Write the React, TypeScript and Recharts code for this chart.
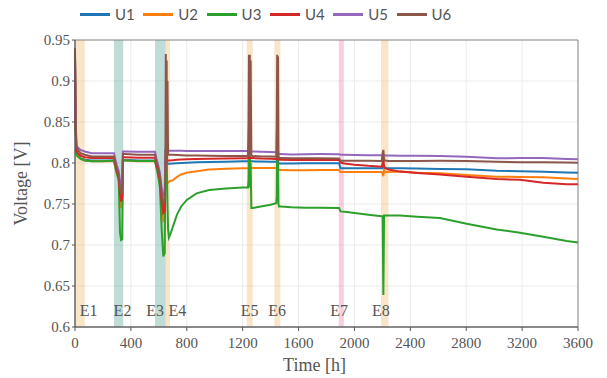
import React from 'react';
import { LineChart, Line, XAxis, YAxis, CartesianGrid, ReferenceArea, ReferenceDot } from 'recharts';

const hours = [
  0, 4, 10, 20, 40, 70, 120, 200, 280,
  286, 300, 313, 322, 330, 338, 343,
  360, 450, 573,
  580, 595, 608, 620, 632, 642,
  647, 650, 653, 656, 659, 662, 666, 672, 680,
  700, 730, 760, 800, 870, 960, 1080, 1200, 1238,
  1242, 1245, 1248, 1251, 1254, 1257, 1262, 1272,
  1330, 1400, 1440,
  1444, 1447, 1450, 1453, 1456, 1460, 1470,
  1550, 1650, 1750, 1890,
  1900, 1930, 2000, 2100, 2195,
  2202, 2207, 2212, 2218, 2245,
  2326, 2450, 2612, 2803, 3018, 3185, 3352, 3519, 3600,
];

const u1 = [
  0.93, 0.85, 0.812, 0.81, 0.806, 0.804, 0.803, 0.803, 0.803,
  0.798, 0.789, 0.78, 0.768, 0.76, 0.762, 0.804,
  0.804, 0.803, 0.803,
  0.798, 0.788, 0.776, 0.758, 0.745, 0.748,
  0.8, 0.801, 0.8, 0.8, 0.799, 0.799, 0.799, 0.799, 0.799,
  0.7995, 0.7998, 0.8, 0.8003, 0.8008, 0.8012, 0.8016, 0.802, 0.802,
  0.802, 0.803, 0.802, 0.803, 0.802, 0.802, 0.802, 0.802,
  0.8018, 0.8016, 0.8015,
  0.8015, 0.802, 0.801, 0.802, 0.8, 0.7995, 0.7995,
  0.7995, 0.7996, 0.7996, 0.7996,
  0.7935, 0.7935, 0.7935, 0.7935, 0.7935,
  0.794, 0.795, 0.7935, 0.7935, 0.7935,
  0.7935, 0.7932, 0.7927, 0.7923, 0.7906, 0.79, 0.7894, 0.7885, 0.788,
];

const u2 = [
  0.93, 0.85, 0.812, 0.809, 0.805, 0.803, 0.802, 0.802, 0.802,
  0.797, 0.787, 0.778, 0.755, 0.745, 0.75, 0.803,
  0.803, 0.802, 0.802,
  0.797, 0.787, 0.774, 0.745, 0.73, 0.733,
  0.8, 0.802, 0.8, 0.79, 0.778, 0.776, 0.776, 0.777, 0.778,
  0.779, 0.783, 0.786, 0.788, 0.79, 0.792, 0.793, 0.7935, 0.7935,
  0.7935, 0.795, 0.793, 0.795, 0.794, 0.794, 0.794, 0.794,
  0.794, 0.794, 0.794,
  0.794, 0.795, 0.794, 0.795, 0.792, 0.7915, 0.7915,
  0.7912, 0.7913, 0.7914, 0.7914,
  0.789, 0.789, 0.789, 0.789, 0.789,
  0.787, 0.784, 0.791, 0.789, 0.789,
  0.7895, 0.788, 0.7874, 0.7854, 0.7833, 0.783, 0.7825, 0.781, 0.7805,
];

const u3 = [
  0.92, 0.84, 0.81, 0.808, 0.805, 0.803, 0.802, 0.802, 0.803,
  0.797, 0.787, 0.78, 0.715, 0.706, 0.707, 0.803,
  0.803, 0.8025, 0.8025,
  0.797, 0.785, 0.77, 0.72, 0.686, 0.69,
  0.8, 0.818, 0.79, 0.805, 0.78, 0.75, 0.72, 0.709, 0.712,
  0.722, 0.737, 0.747, 0.755, 0.763, 0.767, 0.769, 0.77, 0.77,
  0.78, 0.82, 0.77, 0.81, 0.775, 0.8, 0.745, 0.745,
  0.747, 0.749, 0.751,
  0.76, 0.82, 0.77, 0.8, 0.75, 0.747, 0.747,
  0.746, 0.7455, 0.7455, 0.745,
  0.741, 0.7405, 0.739, 0.737, 0.735,
  0.735, 0.639, 0.736, 0.736, 0.736,
  0.736, 0.7345, 0.733, 0.726, 0.719, 0.715, 0.71, 0.705, 0.703,
];

const u4 = [
  0.93, 0.85, 0.815, 0.812, 0.809, 0.807, 0.806, 0.806, 0.806,
  0.8, 0.79, 0.782, 0.762, 0.753, 0.758, 0.807,
  0.807, 0.8065, 0.8065,
  0.8, 0.79, 0.778, 0.752, 0.739, 0.742,
  0.805, 0.806, 0.805, 0.805, 0.804, 0.803, 0.803, 0.803, 0.803,
  0.8035, 0.804, 0.8042, 0.8045, 0.805, 0.8053, 0.8056, 0.8057, 0.8057,
  0.806, 0.808, 0.806, 0.808, 0.806, 0.806, 0.806, 0.806,
  0.8055, 0.8052, 0.805,
  0.805, 0.806, 0.805, 0.806, 0.805, 0.804, 0.804,
  0.8038, 0.8038, 0.8037, 0.8037,
  0.8005, 0.7995, 0.798, 0.7965, 0.7955,
  0.8, 0.805, 0.796, 0.794, 0.792,
  0.7895, 0.7878, 0.786, 0.7833, 0.7805, 0.7795, 0.776, 0.774, 0.774,
];

const u5 = [
  0.935, 0.86, 0.822, 0.819, 0.816, 0.814, 0.812, 0.812, 0.812,
  0.806, 0.797, 0.79, 0.778, 0.771, 0.775, 0.814,
  0.814, 0.8138, 0.8138,
  0.807, 0.798, 0.788, 0.77, 0.761, 0.764,
  0.816, 0.817, 0.816, 0.816, 0.816, 0.815, 0.815, 0.815, 0.815,
  0.815, 0.815, 0.8148, 0.8146, 0.8145, 0.8145, 0.8145, 0.8145, 0.8145,
  0.815, 0.816, 0.815, 0.816, 0.815, 0.815, 0.814, 0.814,
  0.8138, 0.8135, 0.813,
  0.813, 0.814, 0.813, 0.814, 0.812, 0.811, 0.811,
  0.8105, 0.8108, 0.811, 0.8108,
  0.81, 0.81, 0.8098, 0.8096, 0.8095,
  0.8097, 0.81, 0.8095, 0.809, 0.809,
  0.8089, 0.8087, 0.8085, 0.8077, 0.8057, 0.806, 0.806, 0.805, 0.8045,
];

const u6 = [
  0.94, 0.86, 0.82, 0.816, 0.812, 0.81, 0.808, 0.808, 0.808,
  0.802, 0.793, 0.785, 0.77, 0.762, 0.767, 0.811,
  0.811, 0.81, 0.81,
  0.803, 0.794, 0.783, 0.762, 0.751, 0.755,
  0.8, 0.933, 0.79, 0.925, 0.8, 0.9, 0.81, 0.81, 0.81,
  0.81, 0.8098, 0.8095, 0.809, 0.809, 0.8088, 0.8085, 0.8085, 0.8085,
  0.85, 0.932, 0.81, 0.932, 0.815, 0.925, 0.809, 0.8085,
  0.808, 0.808, 0.8077,
  0.85, 0.932, 0.81, 0.93, 0.81, 0.806, 0.806,
  0.8058, 0.8057, 0.8057, 0.8055,
  0.8028, 0.8028, 0.8027, 0.8026, 0.8025,
  0.812, 0.816, 0.805, 0.803, 0.8025,
  0.8025, 0.8025, 0.8028, 0.8025, 0.8016, 0.801, 0.801, 0.8005, 0.8004,
];

const seriesNames = ['U1', 'U2', 'U3', 'U4', 'U5', 'U6'];
const seriesColors = ['#1f77b4', '#ff7f0e', '#2ca02c', '#d62728', '#9467bd', '#8c564b'];
const seriesValues = [u1, u2, u3, u4, u5, u6];

const eventNames = ['E1', 'E2', 'E3', 'E4', 'E5', 'E6', 'E7', 'E8'];
const eventLabelHours = [97, 340, 573, 732, 1250, 1446, 1890, 2190];
const bandStarts = [0, 279, 573, 649, 1229, 1427, 1888, 2190];
const bandEnds = [70, 345, 649, 680, 1272, 1470, 1924, 2243];
const bandColors = ['#f0c078', '#5fa898', '#5fa898', '#f0c078', '#f0c078', '#f0c078', '#ec88b5', '#f0c078'];

const xTicks = [0, 400, 800, 1200, 1600, 2000, 2400, 2800, 3200, 3600];
const yTicks = [0.6, 0.65, 0.7, 0.75, 0.8, 0.85, 0.9, 0.95];

const data = hours.map((h, i) => {
  const row: Record<string, number> = { t: h };
  seriesNames.forEach((n, k) => {
    row[n] = seriesValues[k][i];
  });
  return row;
});

const SERIF = '"Liberation Serif", "Times New Roman", serif';
const TEXT = '#555';

export default function App() {
  return (
    <div style={{ position: 'absolute', left: 0, top: 0, width: 607, height: 378 }}>
      <LineChart width={607} height={378} data={data} margin={{ top: 40, right: 29, bottom: 0, left: 0 }}>
        <CartesianGrid stroke="#ebebeb" strokeWidth={1} />
        {eventNames.map((e, i) => (
          <ReferenceArea
            key={'band' + e}
            x1={bandStarts[i]}
            x2={bandEnds[i]}
            y1={0.6}
            y2={0.95}
            fill={bandColors[i]}
            fillOpacity={0.4}
            stroke="none"
          />
        ))}
        <ReferenceArea x1={0} x2={3600} y1={0.6} y2={0.95} fill="none" stroke="#8a8a8a" strokeWidth={1} />
        <XAxis
          dataKey="t"
          type="number"
          domain={[0, 3600]}
          ticks={xTicks}
          height={51}
          tickSize={4}
          tickMargin={6}
          axisLine={{ stroke: '#555' }}
          tickLine={{ stroke: '#555' }}
          tick={{ fill: TEXT, fontSize: 15, fontFamily: SERIF }}
          label={{ value: 'Time [h]', position: 'insideBottom', offset: 7, dx: -12, fill: TEXT, fontSize: 18, fontFamily: SERIF }}
        />
        <YAxis
          type="number"
          domain={[0.6, 0.95]}
          ticks={yTicks}
          width={75}
          tickSize={3}
          tickMargin={2}
          allowDataOverflow
          axisLine={{ stroke: '#555' }}
          tickLine={{ stroke: '#555' }}
          tickFormatter={(v: number) => String(v)}
          tick={{ fill: TEXT, fontSize: 15, fontFamily: SERIF }}
          label={{ value: 'Voltage [V]', angle: -90, position: 'insideLeft', offset: 21, style: { textAnchor: 'middle' }, fill: TEXT, fontSize: 18, fontFamily: SERIF }}
        />
        {eventNames.map((e, i) => (
          <ReferenceDot
            key={'lab' + e}
            x={eventLabelHours[i]}
            y={0.62}
            r={0}
            fill="none"
            stroke="none"
            label={{ value: e, position: 'center', fill: TEXT, fontSize: 16, fontFamily: SERIF }}
          />
        ))}
        {seriesNames.map((n, k) => (
          <Line
            key={n}
            type="linear"
            dataKey={n}
            stroke={seriesColors[k]}
            strokeWidth={2}
            dot={false}
            activeDot={false}
            isAnimationActive={false}
          />
        ))}
      </LineChart>
      <div style={{ position: 'absolute', top: 0, left: 0, width: 607, height: 30 }}>
        {seriesNames.map((n, k) => (
          <div
            key={n}
            style={{ position: 'absolute', left: 80 + k * 63.3, top: 5, display: 'flex', alignItems: 'center', height: 18 }}
          >
            <div style={{ width: 30, height: 3, background: seriesColors[k] }} />
            <span style={{ marginLeft: 5, fontFamily: 'Lato, "Liberation Sans", sans-serif', fontSize: 15, color: TEXT, lineHeight: '18px' }}>
              {n}
            </span>
          </div>
        ))}
      </div>
    </div>
  );
}
